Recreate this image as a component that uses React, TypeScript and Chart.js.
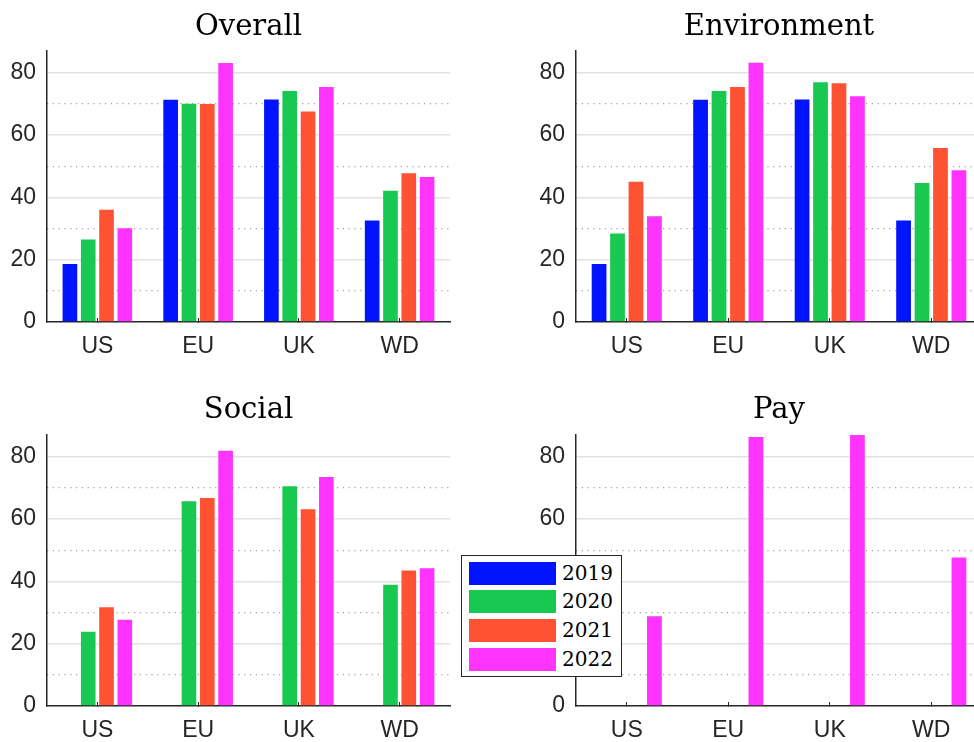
import React, { useEffect, useRef } from "react";
import { Chart, registerables } from "chart.js";

Chart.register(...registerables);

// ---------- data ----------
const categories = ["US", "EU", "UK", "WD"];
const years = ["2019", "2020", "2021", "2022"];
const colors = ["#0014ff", "#18c850", "#ff5233", "#ff33ff"];

const overall2019 = [18.6, 71.3, 71.4, 32.6];
const overall2020 = [26.5, 70.0, 74.1, 42.1];
const overall2021 = [36.0, 69.9, 67.5, 47.7];
const overall2022 = [30.1, 83.1, 75.4, 46.5];

const environment2019 = [18.6, 71.3, 71.4, 32.6];
const environment2020 = [28.4, 74.1, 76.9, 44.6];
const environment2021 = [45.0, 75.4, 76.6, 55.8];
const environment2022 = [33.9, 83.2, 72.4, 48.7];

const social2019 = [null, null, null, null];
const social2020 = [23.8, 65.7, 70.5, 38.9];
const social2021 = [31.7, 66.7, 63.1, 43.5];
const social2022 = [27.7, 81.9, 73.5, 44.2];

const pay2019 = [null, null, null, null];
const pay2020 = [null, null, null, null];
const pay2021 = [null, null, null, null];
const pay2022 = [28.8, 86.3, 86.9, 47.6];

const yTickLabels = [0, 20, 40, 60, 80];
const yMinorTicks = [10, 30, 50, 70];
const yMax = 87;

// ---------- layout ----------
type PanelCfg = {
  title: string;
  series: (number | null)[][];
  left: number;
  top: number;
  width: number;
  height: number;
  yWidth: number;
  padRight: number;
  titleTop: number;
  titleBottom: number;
  xHeight: number;
};

const panels: PanelCfg[] = [
  { title: "Overall", series: [overall2019, overall2020, overall2021, overall2022], left: 0, top: 0, width: 487, height: 371, yWidth: 47, padRight: 37, titleTop: 10, titleBottom: 6, xHeight: 49 },
  { title: "Environment", series: [environment2019, environment2020, environment2021, environment2022], left: 487, top: 0, width: 500, height: 371, yWidth: 89, padRight: 5, titleTop: 10, titleBottom: 6, xHeight: 49 },
  { title: "Social", series: [social2019, social2020, social2021, social2022], left: 0, top: 371, width: 487, height: 371, yWidth: 47, padRight: 37, titleTop: 22, titleBottom: 7, xHeight: 36 },
  { title: "Pay", series: [pay2019, pay2020, pay2021, pay2022], left: 487, top: 371, width: 500, height: 371, yWidth: 89, padRight: 5, titleTop: 22, titleBottom: 7, xHeight: 36 },
];

const tickFont = { family: "'Liberation Sans', Arial, sans-serif", size: 23 };
const axisColor = "#262626";

function Panel({ cfg }: { cfg: PanelCfg }) {
  const ref = useRef<HTMLCanvasElement>(null);
  useEffect(() => {
    const chart = new Chart(ref.current!, {
      type: "bar",
      data: {
        labels: categories,
        datasets: years.map((y, i) => ({
          label: y,
          data: cfg.series[i] as any,
          backgroundColor: colors[i],
          borderWidth: 0,
          categoryPercentage: 0.727,
          barPercentage: 0.8,
        })),
      },
      options: {
        responsive: false,
        animation: false,
        devicePixelRatio: 1,
        layout: { padding: { left: 0, right: cfg.padRight, top: 0, bottom: 0 } },
        plugins: {
          legend: { display: false },
          tooltip: { enabled: false },
          title: {
            display: true,
            fullSize: false,
            text: cfg.title,
            color: "#000",
            font: { family: "'DejaVu Serif', serif", size: 29, weight: "normal", lineHeight: 1.2 },
            padding: { top: cfg.titleTop, bottom: cfg.titleBottom },
          },
        },
        scales: {
          x: {
            type: "category",
            afterFit: (s: any) => { s.height = cfg.xHeight; },
            ticks: { color: axisColor, font: tickFont, padding: 15 },
            grid: { offset: false, drawOnChartArea: false, drawTicks: true, tickLength: -4, tickColor: axisColor, tickWidth: 1 },
            border: { display: true, color: axisColor, width: 1.5 },
          },
          y: {
            type: "linear",
            position: "left",
            min: 0,
            max: yMax,
            afterFit: (s: any) => { s.width = cfg.yWidth; },
            ticks: {
              stepSize: 10,
              includeBounds: false,
              autoSkip: false,
              padding: 11,
              color: axisColor,
              font: tickFont,
              callback: (v: any) => (yTickLabels.includes(Number(v)) ? String(v) : ""),
            },
            grid: {
              drawTicks: false,
              lineWidth: 1.5,
              color: (c: any) => (c.tick && yTickLabels.includes(c.tick.value) && c.tick.value !== 0 ? "#e2e2e2" : "rgba(0,0,0,0)"),
            },
            border: { display: true, color: axisColor, width: 1.5 },
          },
          yMinor: {
            type: "linear",
            position: "left",
            min: 0,
            max: yMax,
            afterFit: (s: any) => { s.width = 0; },
            ticks: { display: false, stepSize: 10, includeBounds: false },
            grid: {
              drawTicks: false,
              lineWidth: 1.2,
              color: (c: any) => (c.tick && yMinorTicks.includes(c.tick.value) ? "#a0a0a0" : "rgba(0,0,0,0)"),
            },
            border: { display: false, dash: [1.2, 4.6] },
          },
        },
      } as any,
    });
    return () => chart.destroy();
  }, []);
  return (
    <canvas
      ref={ref}
      width={cfg.width}
      height={cfg.height}
      style={{ position: "absolute", left: cfg.left, top: cfg.top, width: cfg.width, height: cfg.height }}
    />
  );
}

function Legend() {
  const tops = [6, 34, 63, 92];
  return (
    <div
      style={{
        position: "absolute",
        left: 461,
        top: 555,
        width: 161,
        height: 122,
        boxSizing: "border-box",
        border: "1px solid #262626",
        background: "#fff",
      }}
    >
      {years.map((y, i) => (
        <div key={y}>
          <div style={{ position: "absolute", left: 7, top: tops[i], width: 87, height: 23, background: colors[i] }} />
          <div
            style={{
              position: "absolute",
              left: 100,
              top: tops[i],
              height: 23,
              lineHeight: "23px",
              fontFamily: "'DejaVu Serif', serif",
              fontSize: 20,
              color: "#000",
            }}
          >
            {y}
          </div>
        </div>
      ))}
    </div>
  );
}

export default function App() {
  return (
    <div style={{ position: "fixed", left: 0, top: 0, width: 974, height: 742, overflow: "hidden", background: "#fff" }}>
      {panels.map((p) => (
        <Panel key={p.title} cfg={p} />
      ))}
      <Legend />
    </div>
  );
}
